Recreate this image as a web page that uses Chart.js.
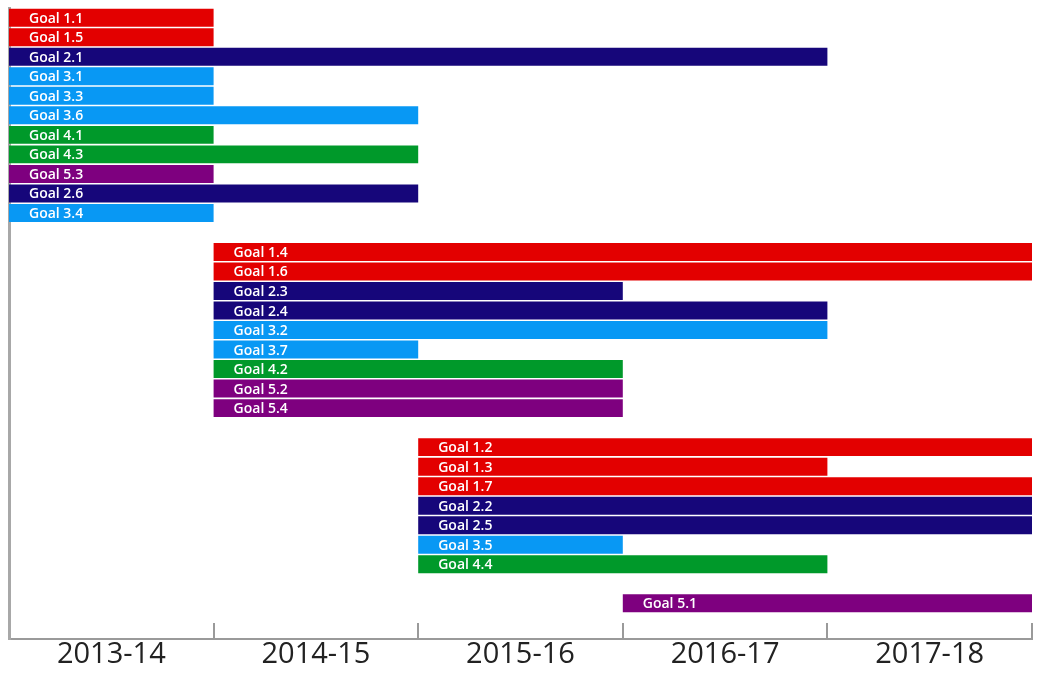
<!DOCTYPE html>
<html>
<head>
<meta charset="utf-8">
<script src="https://cdn.jsdelivr.net/npm/chart.js@4.4.1/dist/chart.umd.min.js"></script>
<style>
  html, body { margin: 0; padding: 0; background: #fff; }
  #wrap { width: 1037px; height: 673px; }
</style>
</head>
<body>
<div id="wrap"><canvas id="gantt"></canvas></div>
<script>
// timeline periods (x axis)
const periods = ['2013-14', '2014-15', '2015-16', '2016-17', '2017-18'];

// one entry per bar, row = position from the top (gaps are empty rows)
const goals = [
  'Goal 1.1', 'Goal 1.5', 'Goal 2.1', 'Goal 3.1', 'Goal 3.3', 'Goal 3.6',
  'Goal 4.1', 'Goal 4.3', 'Goal 5.3', 'Goal 2.6', 'Goal 3.4',
  'Goal 1.4', 'Goal 1.6', 'Goal 2.3', 'Goal 2.4', 'Goal 3.2', 'Goal 3.7',
  'Goal 4.2', 'Goal 5.2', 'Goal 5.4',
  'Goal 1.2', 'Goal 1.3', 'Goal 1.7', 'Goal 2.2', 'Goal 2.5', 'Goal 3.5', 'Goal 4.4',
  'Goal 5.1'
];
const rows = [
  0, 1, 2, 3, 4, 5, 6, 7, 8, 9, 10,
  12, 13, 14, 15, 16, 17, 18, 19, 20,
  22, 23, 24, 25, 26, 27, 28,
  30
];
// start / end in periods (0 = start of 2013-14, 5 = end of 2017-18)
const starts = [
  0, 0, 0, 0, 0, 0, 0, 0, 0, 0, 0,
  1, 1, 1, 1, 1, 1, 1, 1, 1,
  2, 2, 2, 2, 2, 2, 2,
  3
];
const ends = [
  1, 1, 4, 1, 1, 2, 1, 2, 1, 2, 1,
  5, 5, 3, 4, 4, 2, 3, 3, 3,
  5, 4, 5, 5, 5, 3, 4,
  5
];

// colour per goal number
const goalColors = {
  '1': '#e30000',
  '2': '#16067a',
  '3': '#0898f4',
  '4': '#00992a',
  '5': '#7e007f'
};

const barData = goals.map((g, i) => ({ x: [starts[i], ends[i]], y: rows[i] }));
const barColors = goals.map(g => goalColors[g.charAt(5)]);

// goal names written inside the bars
const barLabels = {
  id: 'barLabels',
  afterDatasetsDraw(chart) {
    const ctx = chart.ctx;
    const meta = chart.getDatasetMeta(0);
    ctx.save();
    ctx.fillStyle = '#ffffff';
    ctx.font = '600 14px "Open Sans"';
    ctx.textBaseline = 'middle';
    ctx.textAlign = 'left';
    meta.data.forEach((bar, i) => {
      const left = Math.min(bar.base, bar.x);
      ctx.fillText(goals[i], left + 20, bar.y + 1);
    });
    ctx.restore();
  }
};

// short tick marks pointing up from the x axis at period boundaries
const innerTicks = {
  id: 'innerTicks',
  afterDraw(chart) {
    const ctx = chart.ctx;
    const xs = chart.scales.x;
    const bottom = chart.chartArea.bottom;
    ctx.save();
    ctx.strokeStyle = '#9a9a9a';
    ctx.lineWidth = 2;
    for (let v = 1; v <= periods.length; v++) {
      const px = Math.round(xs.getPixelForValue(v));
      ctx.beginPath();
      ctx.moveTo(px, bottom);
      ctx.lineTo(px, bottom - 16);
      ctx.stroke();
    }
    ctx.restore();
  }
};

const ctx = document.getElementById('gantt').getContext('2d');
new Chart(ctx, {
  type: 'bar',
  data: {
    datasets: [{
      data: barData,
      backgroundColor: barColors,
      barPercentage: 0.92,
      categoryPercentage: 1,
      borderWidth: 0
    }]
  },
  options: {
    indexAxis: 'y',
    responsive: true,
    maintainAspectRatio: false,
    animation: false,
    layout: { padding: { left: 9, right: 5, top: 8, bottom: 3 } },
    scales: {
      x: {
        type: 'linear',
        min: 0,
        max: periods.length,
        afterBuildTicks: axis => {
          axis.ticks = periods.map((p, i) => ({ value: i + 0.5 }));
        },
        grid: { display: false, drawTicks: false },
        border: { display: true, color: '#9a9a9a', width: 2 },
        ticks: {
          padding: 1,
          color: '#222222',
          font: { family: '"Open Sans"', size: 29, lineHeight: 1 },
          callback: value => periods[Math.floor(value)]
        }
      },
      y: {
        type: 'linear',
        reverse: true,
        offset: false,
        min: -0.5,
        max: 31.83,
        grid: { display: false, drawTicks: false, offset: false },
        border: { display: true, color: '#a8a8a8', width: 3 },
        ticks: { display: false }
      }
    },
    plugins: {
      legend: { display: false },
      tooltip: { enabled: false }
    }
  },
  plugins: [barLabels, innerTicks]
});
</script>
</body>
</html>
